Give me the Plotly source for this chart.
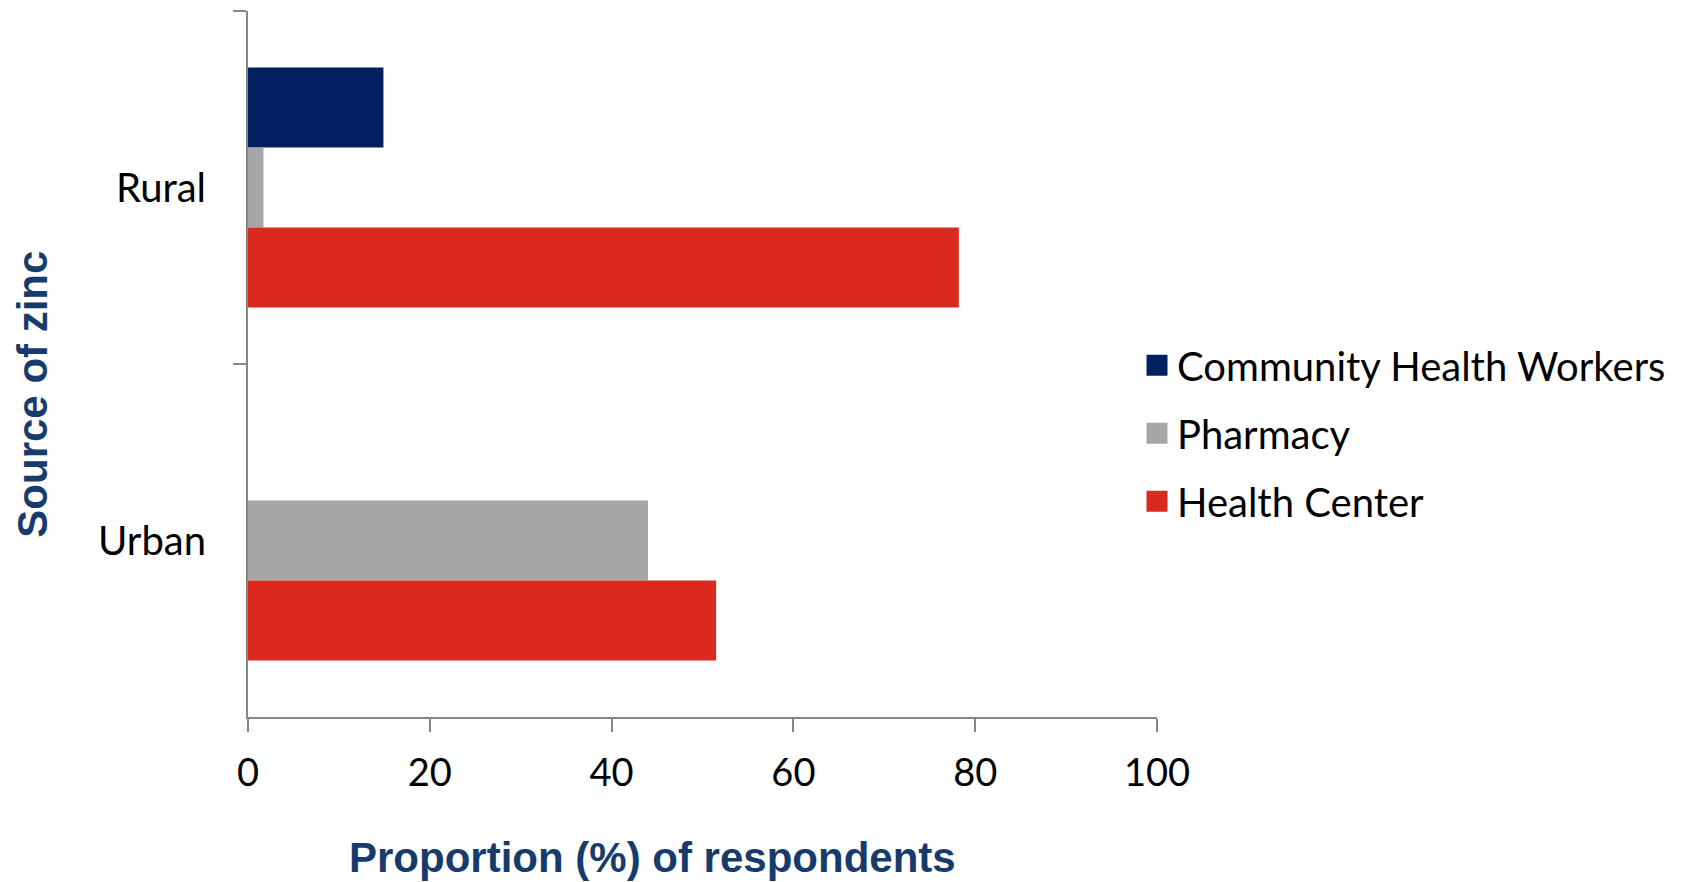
import plotly.graph_objects as go

# Data
settings = ["Rural", "Urban"]
series_names = ["Community Health Workers", "Pharmacy", "Health Center"]
chw_pct = [14.9, 0.0]
pharmacy_pct = [1.7, 44.0]
health_center_pct = [78.2, 51.5]
x_ticks = [0, 20, 40, 60, 80, 100]

colors = ["#00205F", "#A6A6A6", "#DA291E"]
axis_grey = "#868686"
title_blue = "#173B6C"
label_font = dict(family="Lato, Carlito, sans-serif", size=40, color="black")
xtick_font = dict(family="Lato, Carlito, sans-serif", size=38, color="black")
title_font = dict(family="Liberation Sans, Arial, sans-serif", size=42, color=title_blue)

fig = go.Figure()

for name, vals, col in zip(series_names, [chw_pct, pharmacy_pct, health_center_pct], colors):
    fig.add_trace(go.Bar(
        y=settings, x=vals, name=name, orientation="h",
        marker=dict(color=col, line=dict(width=0)),
        showlegend=False, legendgroup=name,
    ))

# legend-only traces so the legend squares can be bigger than the bar icons
for name, col in zip(series_names, colors):
    fig.add_trace(go.Scatter(
        x=[None], y=[None], mode="markers", name=name, legendgroup=name,
        marker=dict(symbol="square", size=16, color=col, line=dict(color=col, width=5)),
    ))

# page body has an 8px margin, so the figure is sized to fit what is left
fig.update_layout(
    width=1673, height=874, autosize=False,
    paper_bgcolor="white", plot_bgcolor="white",
    margin=dict(l=240, r=524, t=3, b=165, pad=0, autoexpand=False),
    barmode="group", bargap=0.32, bargroupgap=0,
    font=label_font,
    legend=dict(
        x=0.978, y=0.402, xanchor="left", yanchor="middle",
        font=label_font,
        itemsizing="trace", traceorder="grouped", tracegroupgap=13,
        bgcolor="rgba(0,0,0,0)",
    ),
    xaxis=dict(
        range=[0, 100], tickvals=x_ticks, showgrid=False, zeroline=False,
        showline=True, linecolor=axis_grey, linewidth=2, automargin=False,
        ticks="outside", ticklen=13, tickwidth=2, tickcolor=axis_grey,
        ticklabelstandoff=8, tickfont=xtick_font,
    ),
    yaxis=dict(
        type="category", categoryorder="array", categoryarray=settings,
        range=[1.5, -0.5], showgrid=False, zeroline=False,
        showline=True, linecolor=axis_grey, linewidth=2, automargin=False,
        ticks="outside", tickson="boundaries", ticklen=13, tickwidth=2, tickcolor=axis_grey,
        ticklabelstandoff=32, tickfont=label_font,
    ),
    annotations=[
        dict(text="<b>Proportion (%) of respondents</b>", xref="paper", yref="paper",
             x=0.4447, y=-0.199, xanchor="center", yanchor="middle", showarrow=False,
             font=title_font),
        dict(text="<b>Source of zinc</b>", xref="paper", yref="paper",
             x=-0.238, y=0.4575, xanchor="center", yanchor="middle", showarrow=False,
             textangle=-90, font=title_font),
    ],
)

fig.write_html("out.html")
